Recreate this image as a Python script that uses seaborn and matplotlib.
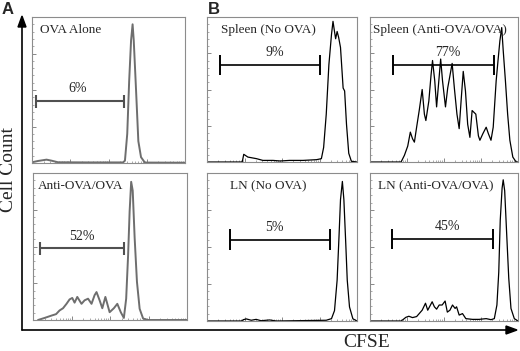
import numpy as np
import seaborn as sns
import matplotlib.pyplot as plt

sns.set_style("white")
plt.rcParams['font.family'] = ['Liberation Serif', 'DejaVu Serif']

# CFSE histograms, x in log decades (0-4), y in % of panel height
ova_alone_x = [0, 0.16, 0.38, 0.51, 0.68, 1.5, 2.38, 2.43, 2.49, 2.54, 2.59, 2.63, 2.66, 2.72, 2.78, 2.85, 2.95, 4]
ova_alone_y = [0.5, 1.4, 2.3, 1.6, 0.5, 0.4, 0.4, 1.6, 20, 56, 84, 95, 84, 50, 15, 4, 0.3, 0.2]

anti_a_x = [0.13, 0.30, 0.48, 0.60, 0.69, 0.78, 0.87, 0.95, 1.02, 1.08, 1.15, 1.26, 1.34, 1.43, 1.52, 1.60, 1.65,
            1.73, 1.80, 1.88, 1.99, 2.10, 2.19, 2.28, 2.36, 2.42, 2.47, 2.51, 2.55, 2.59, 2.64, 2.70, 2.77, 2.86, 2.99, 4]
anti_a_y = [0, 1.4, 3, 4, 6.5, 8, 11, 14, 15, 11.8, 15.7, 11, 13.4, 14.5, 11, 16.9, 19,
            13.4, 8, 15.7, 5.3, 8, 11, 5.3, 1.4, 14.5, 44, 74, 94, 88, 56, 26, 7.6, 1, 0, 0]

spleen_no_x = [0, 0.94, 0.98, 1.09, 1.32, 1.49, 1.76, 1.95, 2.2, 2.56, 2.92, 3.05, 3.11, 3.18, 3.25, 3.32, 3.36,
               3.40, 3.43, 3.47, 3.51, 3.56, 3.63, 3.67, 3.72, 3.78, 3.85, 4]
spleen_no_y = [0, 0, 5.3, 3.4, 2.3, 1.1, 1.1, 0.7, 1.1, 1.1, 1.6, 2.3, 10, 33, 67, 88, 97,
               90, 85, 90, 86, 79, 51, 49, 26, 6, 0.5, 0]

spleen_anti_x = [0, 0.84, 0.93, 1.02, 1.09, 1.15, 1.20, 1.26, 1.33, 1.41, 1.47, 1.51, 1.59, 1.65, 1.69, 1.75, 1.80,
                 1.86, 1.91, 1.96, 2.04, 2.10, 2.22, 2.28, 2.35, 2.41, 2.47, 2.52, 2.58, 2.64, 2.70, 2.76, 2.82,
                 2.86, 2.93, 2.97, 3.05, 3.14, 3.20, 3.27, 3.33, 3.41, 3.46, 3.51, 3.56, 3.60, 3.66, 3.72, 3.78,
                 3.86, 3.95, 4]
spleen_anti_y = [0, 0, 4.6, 11, 20.6, 16, 13.7, 24, 35.5, 50, 33, 28.6, 42, 60, 70, 56, 38,
                 56, 71, 56, 38, 51, 68, 51, 33, 23, 45, 62.5, 49, 26, 17, 35.5, 34,
                 33, 18, 15, 19.5, 24, 19.5, 15, 24, 56, 70, 83.5, 92.7, 77, 56, 33, 15,
                 3.4, 0, 0]

ln_no_x = [0, 0.92, 0.97, 1.05, 1.18, 1.31, 1.44, 1.67, 1.85, 3.18, 3.32, 3.40, 3.47, 3.52, 3.56, 3.61, 3.65,
           3.70, 3.74, 3.80, 3.89, 4]
ln_no_y = [0, 0, 0.9, 1.4, 0.5, 1.1, 0.2, 0.7, 0, 0.5, 1.6, 7, 27.6, 57, 82, 94.3, 82,
           52.5, 27.6, 9.5, 1.5, 0]

ln_anti_x = [0, 0.84, 0.90, 0.97, 1.05, 1.15, 1.26, 1.33, 1.41, 1.50, 1.56, 1.63, 1.68, 1.74, 1.80, 1.87, 1.95,
             2.03, 2.09, 2.16, 2.23, 2.30, 2.34, 2.41, 2.50, 2.59, 2.77, 2.95, 3.14, 3.27, 3.36, 3.43, 3.48,
             3.52, 3.57, 3.60, 3.64, 3.69, 3.75, 3.81, 3.90, 4]
ln_anti_y = [0, 0, 1.1, 2.5, 3.2, 2.3, 3, 5, 7.3, 12, 7.3, 10.6, 13, 9.6, 8, 10.8, 10.8,
             13.5, 6, 7.3, 10.8, 8.5, 9.6, 4, 5, 1.6, 1.1, 1.1, 1.6, 0.9, 1.6, 10.8, 33,
             68, 89.7, 95.4, 88, 61, 29, 8.5, 1.6, 0]

titles = ["OVA Alone", "Anti-OVA/OVA", "Spleen (No OVA)", "Spleen (Anti-OVA/OVA)",
          "LN (No OVA)", "LN (Anti-OVA/OVA)"]
percents = ["6%", "52%", "9%", "77%", "5%", "45%"]
gate_start = [0.11, 0.17, 0.34, 0.61, 0.60, 0.59]
gate_end = [2.40, 2.36, 3.02, 3.36, 3.29, 3.32]
gate_y = [42.3, 48.7, 67, 67, 55, 55.4]
title_x = [0.20, 0.13, 0.38, 0.07, 0.60, 0.21]
label_x = [1.20, 1.26, 1.80, 2.10, 1.80, 2.10]

curves = [(ova_alone_x, ova_alone_y), (anti_a_x, anti_a_y), (spleen_no_x, spleen_no_y),
          (spleen_anti_x, spleen_anti_y), (ln_no_x, ln_no_y), (ln_anti_x, ln_anti_y)]

W, H = 520, 351
# panel boxes in image pixels: x0, y_top, x1, y_bottom
boxes = [(32, 17, 185, 163), (33, 173, 187, 320),
         (207, 17, 357, 162), (370, 17, 518, 162),
         (207, 173, 357, 321), (370, 173, 518, 321)]

fig = plt.figure(figsize=(W / 100, H / 100), dpi=100)

major = [0, 1, 2, 3, 4]
minor = [d + np.log10(k) for d in range(4) for k in range(2, 10)]

for i, (x0, yt, x1, yb) in enumerate(boxes):
    ax = fig.add_axes([x0 / W, (H - yb) / H, (x1 - x0) / W, (yb - yt) / H])
    panel_a = i < 2
    col = '#6e6e6e' if panel_a else 'black'
    lw = 1.4 if panel_a else 0.9
    cx, cy = curves[i]
    sns.lineplot(x=cx, y=cy, ax=ax, color=col, linewidth=lw, sort=False, estimator=None)
    ax.set_xlim(0, 4)
    ax.set_ylim(0, 100)
    # gate bar
    cap = 4.5 if panel_a else 7
    gcol = '#505050' if panel_a else 'black'
    ax.hlines(gate_y[i], gate_start[i], gate_end[i], color=gcol, linewidth=1.5 if panel_a else 1.2)
    ax.vlines([gate_start[i], gate_end[i]], gate_y[i] - cap, gate_y[i] + cap, color=gcol,
              linewidth=1.5 if panel_a else 1.4)
    ax.text(label_x[i], gate_y[i] + 4, percents[i], fontsize=10, ha='center', va='bottom')
    ax.text(title_x[i], 91, titles[i], fontsize=9.5, ha='left', va='center', clip_on=False)
    # log style ticks
    ax.set_xticks(major)
    ax.set_xticks(minor, minor=True)
    ax.set_yticks([0, 25, 50, 75, 100])
    ax.set_yticks(np.arange(0, 100, 5), minor=True)
    ax.tick_params(which='both', direction='in', colors='#888888', labelbottom=False, labelleft=False,
                   bottom=True, left=True)
    ax.tick_params(which='major', length=3, width=0.7)
    ax.tick_params(which='minor', length=1.5, width=0.5)
    for s in ax.spines.values():
        s.set_color('#8c8c8c')
        s.set_linewidth(0.8)
    ax.set_xlabel('')
    ax.set_ylabel('')

# L-shaped axis arrows
fig.add_artist(plt.Line2D([22 / W, 22 / W], [(H - 330) / H, (H - 25) / H], color='black', lw=1.2))
fig.add_artist(plt.Line2D([22 / W, 508 / W], [(H - 330) / H, (H - 330) / H], color='black', lw=1.2))
fig.patches.append(plt.Polygon([[18 / W, (H - 27) / H], [26 / W, (H - 27) / H], [22 / W, (H - 16) / H]],
                               closed=True, color='black', transform=fig.transFigure))
fig.patches.append(plt.Polygon([[506 / W, (H - 326) / H], [506 / W, (H - 334) / H], [517 / W, (H - 330) / H]],
                               closed=True, color='black', transform=fig.transFigure))

fig.text(9 / W, (H - 169) / H, "Cell Count", rotation=90, fontsize=14, ha='center', va='center')
fig.text(367 / W, (H - 347) / H, "CFSE", fontsize=14, ha='center', va='baseline')
fig.text(2 / W, (H - 10) / H, "A", fontsize=12, fontweight='bold', family=['Liberation Sans'],
         ha='left', va='center')
fig.text(208 / W, (H - 10) / H, "B", fontsize=12, fontweight='bold', family=['Liberation Sans'],
         ha='left', va='center')

fig.savefig("out.png", dpi=100)
